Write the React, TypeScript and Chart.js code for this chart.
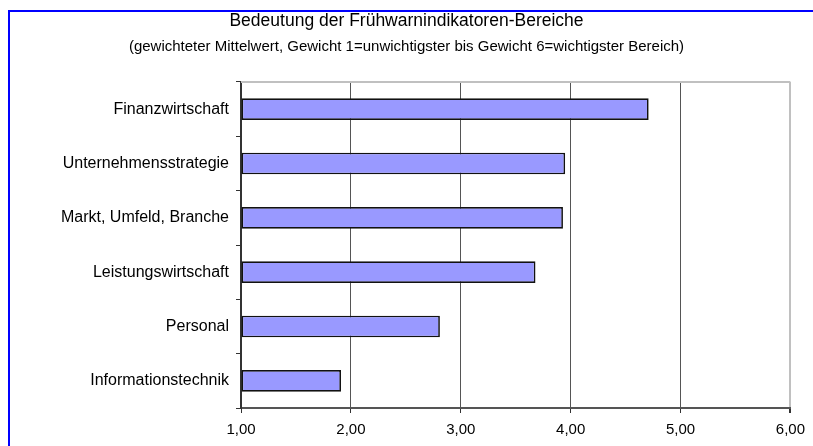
import React, { useEffect, useRef } from "react";
import { Chart, registerables } from "chart.js";

Chart.register(...registerables);

const TITLE = "Bedeutung der Frühwarnindikatoren-Bereiche";
const SUBTITLE =
  "(gewichteter Mittelwert, Gewicht 1=unwichtigster bis Gewicht 6=wichtigster Bereich)";

const categories = [
  "Finanzwirtschaft",
  "Unternehmensstrategie",
  "Markt, Umfeld, Branche",
  "Leistungswirtschaft",
  "Personal",
  "Informationstechnik",
];

const values = [4.71, 3.95, 3.93, 3.68, 2.81, 1.91];

const axisMin = 1;
const axisMax = 6;
const axisStep = 1;

const FONT = "'Liberation Sans', Arial, sans-serif";

const framePlugin = {
  id: "frameTop",
  beforeDatasetsDraw(chart: any) {
    const { ctx, chartArea } = chart;
    ctx.save();
    ctx.strokeStyle = "#c0c0c0";
    ctx.lineWidth = 2;
    ctx.beginPath();
    ctx.moveTo(chartArea.left, chartArea.top);
    ctx.lineTo(chartArea.right, chartArea.top);
    ctx.stroke();
    ctx.restore();
  },
};

export default function App() {
  const ref = useRef<HTMLCanvasElement | null>(null);

  useEffect(() => {
    if (!ref.current) return;
    const chart = new Chart(ref.current, {
      type: "bar",
      data: {
        labels: categories,
        datasets: [
          {
            data: values,
            base: axisMin,
            backgroundColor: "#9999ff",
            borderColor: "#111111",
            borderWidth: 1.7,
            borderSkipped: false,
            categoryPercentage: 1,
            barPercentage: 0.4,
          } as any,
        ],
      },
      options: {
        indexAxis: "y",
        animation: false,
        responsive: false,
        maintainAspectRatio: false,
        layout: { padding: { left: 0, right: 0, top: 0, bottom: 0 } },
        plugins: {
          legend: { display: false },
          tooltip: { enabled: false },
          title: {
            display: true,
            text: TITLE,
            color: "#000",
            font: { family: FONT, size: 17.5, weight: "normal" },
            padding: { top: 11, bottom: 6 },
          },
          subtitle: {
            display: true,
            text: SUBTITLE,
            color: "#000",
            font: { family: FONT, size: 15, weight: "normal" },
            padding: { top: 0, bottom: 26 },
          },
        },
        scales: {
          x: {
            type: "linear",
            min: axisMin,
            max: axisMax,
            ticks: {
              stepSize: axisStep,
              color: "#000",
              font: { family: FONT, size: 15 },
              padding: 8,
              callback: (v: any) => Number(v).toFixed(2).replace(".", ","),
            },
            grid: {
              color: (c: any) =>
                c.tick && c.tick.value === axisMax ? "#c0c0c0" : "#555555",
              lineWidth: (c: any) => (c.tick && c.tick.value === axisMax ? 2 : 1),
              tickColor: "#333333",
              tickLength: 5,
              drawOnChartArea: true,
            },
            border: { display: true, color: "#555555", width: 2 },
            afterFit: (s: any) => {
              s.height = 38;
            },
          },
          y: {
            type: "category",
            ticks: {
              color: "#000",
              font: { family: FONT, size: 16 },
              padding: 7,
            },
            grid: {
              offset: true,
              drawOnChartArea: false,
              tickColor: "#333333",
              tickLength: 5,
            },
            border: { display: true, color: "#333333", width: 2 },
            afterFit: (s: any) => {
              s.width = 241;
            },
          },
          yRight: {
            type: "category",
            position: "right",
            ticks: { display: false },
            grid: { display: false },
            border: { display: false },
            afterFit: (s: any) => {
              s.width = 22;
            },
          },
        },
      },
      plugins: [framePlugin],
    });
    return () => chart.destroy();
  }, []);

  return (
    <div
      style={{
        position: "fixed",
        left: 0,
        top: 0,
        width: 813,
        height: 446,
        overflow: "hidden",
        background: "#fff",
      }}
    >
      <canvas ref={ref} width={813} height={446} style={{ position: "absolute", left: 0, top: 0 }} />
      <div
        style={{
          position: "absolute",
          left: 8,
          top: 10,
          width: 900,
          height: 600,
          borderLeft: "2px solid #0000ff",
          borderTop: "2px solid #0000ff",
          pointerEvents: "none",
        }}
      />
    </div>
  );
}
